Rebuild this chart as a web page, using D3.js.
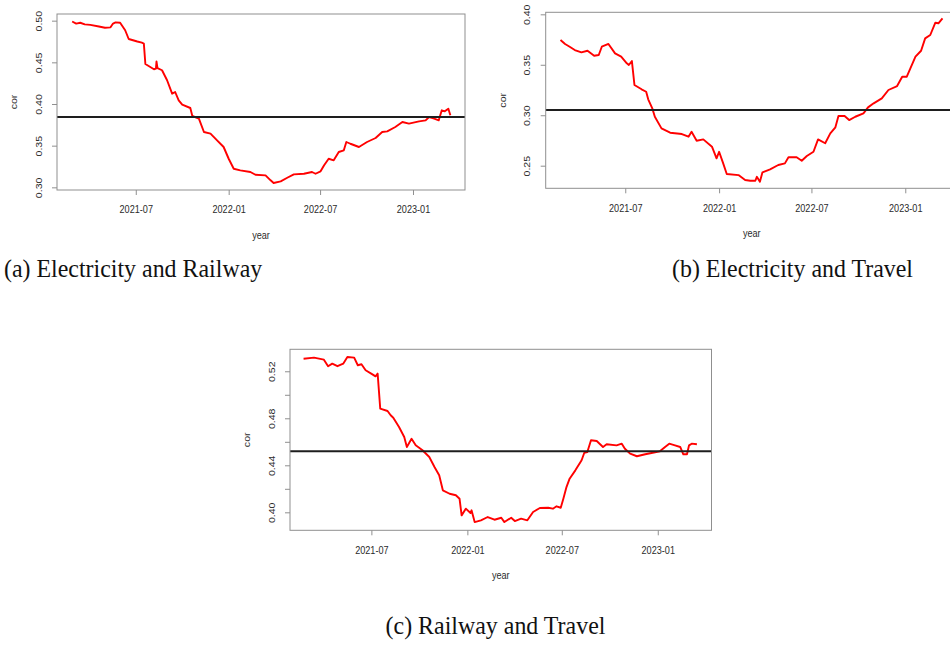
<!DOCTYPE html>
<html>
<head>
<meta charset="utf-8">
<script src="https://cdn.jsdelivr.net/npm/d3@7/dist/d3.min.js"></script>
<style>
  html, body { margin: 0; padding: 0; background: #fff; }
  svg { display: block; }
</style>
</head>
<body>
<svg id="chart" width="950" height="645"></svg>
<script>
// Rolling correlation between sector series, with the overall mean as a reference line.

const xTickLabels = ["2021-07", "2022-01", "2022-07", "2023-01"];

// (a) Electricity and Railway
const datesA = ["2021-02-25","2021-03-05","2021-03-13","2021-03-22","2021-04-02","2021-04-19","2021-05-01","2021-05-12","2021-05-17","2021-05-22","2021-05-31","2021-06-10","2021-06-17","2021-07-04","2021-07-13","2021-07-17","2021-07-20","2021-08-06","2021-08-10","2021-08-11","2021-08-13","2021-08-22","2021-09-01","2021-09-11","2021-09-17","2021-09-24","2021-10-01","2021-10-17","2021-10-21","2021-11-03","2021-11-13","2021-11-26","2021-12-09","2021-12-22","2022-01-01","2022-01-11","2022-01-24","2022-02-13","2022-02-23","2022-03-15","2022-03-25","2022-03-31","2022-04-14","2022-04-27","2022-05-10","2022-05-30","2022-06-15","2022-06-22","2022-07-02","2022-07-09","2022-07-18","2022-07-28","2022-08-07","2022-08-17","2022-08-22","2022-08-30","2022-09-16","2022-10-02","2022-10-19","2022-11-01","2022-11-11","2022-11-27","2022-12-11","2022-12-24","2023-01-13","2023-01-26","2023-02-02","2023-02-12","2023-02-21","2023-02-27","2023-03-05","2023-03-12","2023-03-16"];
const corA = [0.499,0.4965,0.4975,0.4955,0.495,0.493,0.4915,0.492,0.4965,0.498,0.4975,0.4885,0.478,0.475,0.4736,0.4725,0.448,0.4417,0.4425,0.451,0.443,0.4405,0.4285,0.4124,0.4144,0.4044,0.3992,0.3952,0.3856,0.3824,0.3664,0.3644,0.3564,0.3484,0.3343,0.3223,0.3204,0.3184,0.3151,0.3144,0.3084,0.3052,0.3072,0.3115,0.3156,0.3163,0.3184,0.3163,0.3192,0.3264,0.3343,0.3324,0.3424,0.3444,0.3544,0.3523,0.3484,0.3544,0.3592,0.3664,0.3672,0.3724,0.3784,0.3764,0.3792,0.3804,0.3844,0.3824,0.3804,0.3924,0.3912,0.3944,0.3864];
const meanA = 0.3844;
const yTicksA = [0.30, 0.35, 0.40, 0.45, 0.50];

// (b) Electricity and Travel
const datesB = ["2021-02-24","2021-03-05","2021-03-14","2021-03-24","2021-04-06","2021-04-18","2021-05-01","2021-05-10","2021-05-16","2021-05-29","2021-06-11","2021-06-23","2021-07-04","2021-07-08","2021-07-14","2021-07-19","2021-08-02","2021-08-11","2021-08-15","2021-08-23","2021-08-28","2021-09-10","2021-09-27","2021-10-20","2021-11-02","2021-11-08","2021-11-18","2021-12-01","2021-12-18","2021-12-27","2022-01-01","2022-01-09","2022-01-16","2022-02-08","2022-02-21","2022-03-03","2022-03-13","2022-03-16","2022-03-22","2022-03-27","2022-04-11","2022-04-27","2022-05-10","2022-05-17","2022-06-02","2022-06-12","2022-06-22","2022-07-05","2022-07-14","2022-07-28","2022-08-07","2022-08-17","2022-08-23","2022-09-04","2022-09-13","2022-09-25","2022-10-11","2022-10-20","2022-10-31","2022-11-16","2022-11-29","2022-12-16","2022-12-26","2023-01-04","2023-01-11","2023-01-21","2023-02-01","2023-02-09","2023-02-19","2023-03-01","2023-03-07","2023-03-15"];
const corB = [0.3745,0.3706,0.3679,0.3646,0.3623,0.3639,0.359,0.3597,0.3679,0.3706,0.3613,0.358,0.3514,0.3498,0.3537,0.33,0.3257,0.3233,0.3158,0.3068,0.2985,0.287,0.2827,0.2814,0.2787,0.2836,0.2747,0.2761,0.2688,0.2573,0.2638,0.2523,0.2417,0.2407,0.2358,0.2351,0.2351,0.239,0.2341,0.2434,0.2464,0.2507,0.2523,0.2583,0.2583,0.2549,0.2596,0.2638,0.2761,0.2722,0.282,0.288,0.2992,0.2992,0.2952,0.2985,0.3019,0.3078,0.3118,0.3167,0.325,0.3289,0.3382,0.3382,0.3465,0.358,0.3639,0.3762,0.3795,0.3917,0.3911,0.396];
const meanB = 0.3053;
const yTicksB = [0.25, 0.30, 0.35, 0.40];

// (c) Railway and Travel
const datesC = ["2021-02-21","2021-03-13","2021-04-01","2021-04-09","2021-04-17","2021-04-27","2021-05-08","2021-05-16","2021-05-29","2021-06-05","2021-06-12","2021-06-20","2021-07-03","2021-07-09","2021-07-13","2021-07-18","2021-08-01","2021-08-07","2021-08-12","2021-08-23","2021-09-02","2021-09-07","2021-09-16","2021-09-24","2021-10-07","2021-10-20","2021-10-30","2021-11-08","2021-11-15","2021-11-28","2021-12-10","2021-12-17","2021-12-21","2021-12-29","2022-01-07","2022-01-09","2022-01-15","2022-01-27","2022-02-09","2022-02-22","2022-03-07","2022-03-13","2022-03-26","2022-04-02","2022-04-14","2022-04-26","2022-05-07","2022-05-20","2022-06-05","2022-06-14","2022-06-21","2022-06-29","2022-07-04","2022-07-10","2022-07-16","2022-07-27","2022-08-08","2022-08-13","2022-08-19","2022-08-26","2022-09-06","2022-09-18","2022-09-25","2022-10-14","2022-10-24","2022-10-30","2022-11-09","2022-11-22","2022-12-08","2022-12-20","2023-01-05","2023-01-15","2023-01-23","2023-02-03","2023-02-13","2023-02-19","2023-02-26","2023-03-02","2023-03-07","2023-03-17"];
const corC = [0.5307,0.5316,0.5299,0.5243,0.5265,0.5243,0.5265,0.5322,0.5316,0.5251,0.526,0.5209,0.5174,0.5157,0.518,0.4882,0.4862,0.4826,0.4805,0.4726,0.4641,0.4556,0.4626,0.457,0.4528,0.4471,0.4386,0.4315,0.4187,0.4158,0.4145,0.4116,0.3974,0.4031,0.3994,0.4017,0.3917,0.3932,0.396,0.3937,0.3954,0.3917,0.3954,0.3926,0.3946,0.3932,0.4003,0.4037,0.4039,0.4031,0.4051,0.4039,0.4116,0.4215,0.4286,0.4357,0.4443,0.4505,0.4513,0.4613,0.4607,0.4556,0.4579,0.457,0.4584,0.4541,0.4499,0.4477,0.4494,0.4505,0.4519,0.4556,0.4584,0.457,0.4556,0.4494,0.4494,0.457,0.4584,0.4579];
const meanC = 0.452;
const yTicksC = [0.40, 0.42, 0.44, 0.46, 0.48, 0.50, 0.52];
const yLabelsC = [0.40, 0.44, 0.48, 0.52];

const captions = ["(a) Electricity and Railway", "(b) Electricity and Travel", "(c) Railway and Travel"];

const parseDate = d3.timeParse("%Y-%m-%d");
const parseMonth = d3.timeParse("%Y-%m");
const xExtent = [parseDate("2021-01-26"), parseDate("2023-04-14")];

const panels = [
  { dates: datesA, cor: corA, mean: meanA, ticks: yTicksA, labels: yTicksA,
    box: { x0: 57, x1: 465, y0: 14, y1: 190 }, yDomain: [0.2968, 0.508], caption: captions[0],
    cap: { x: 4, y: 277, anchor: "start" } },
  { dates: datesB, cor: corB, mean: meanB, ticks: yTicksB, labels: yTicksB,
    box: { x0: 545.7, x1: 957.8, y0: 12.3, y1: 188.3 }, yDomain: [0.2276, 0.402], caption: captions[1],
    cap: { x: 913, y: 277, anchor: "end" } },
  { dates: datesC, cor: corC, mean: meanC, ticks: yTicksC, labels: yLabelsC,
    box: { x0: 290, x1: 711.5, y0: 349.3, y1: 530.3 }, yDomain: [0.3847, 0.5387], caption: captions[2],
    cap: { x: 495.5, y: 634, anchor: "middle" } }
];

const svg = d3.select("#chart");
svg.append("rect").attr("width", 950).attr("height", 645).attr("fill", "#fff");

const FRAME = "#8f8f8f";
const TEXT = "#2b2b2b";
const SX = 0.86; // condensed horizontal glyph scale of the plot text
const sansFont = "'Liberation Sans', Arial, sans-serif";

panels.forEach(p => {
  const b = p.box;
  const x = d3.scaleTime().domain(xExtent).range([b.x0, b.x1]);
  const y = d3.scaleLinear().domain(p.yDomain).range([b.y1, b.y0]);
  const g = svg.append("g");

  // y axis
  const yAxis = g.append("g").attr("transform", `translate(${b.x0},0)`)
    .call(d3.axisLeft(y).tickValues(p.ticks).tickSize(5)
      .tickFormat(v => p.labels.some(l => Math.abs(l - v) < 1e-9) ? d3.format(".2f")(v) : ""));
  yAxis.select(".domain").remove();
  yAxis.selectAll(".tick line").attr("stroke", FRAME).attr("stroke-width", 1);
  yAxis.selectAll(".tick text")
    .attr("x", null).attr("dy", null)
    .attr("text-anchor", "middle")
    .attr("transform", `translate(-15.5,0) scale(${SX},1) rotate(-90)`)
    .attr("fill", TEXT).style("font-family", sansFont).style("font-size", "10.6px");

  // x axis
  const xAxis = g.append("g").attr("transform", `translate(0,${b.y1})`)
    .call(d3.axisBottom(x).tickValues(xTickLabels.map(parseMonth)).tickSize(5)
      .tickFormat(d3.timeFormat("%Y-%m")));
  xAxis.select(".domain").remove();
  xAxis.selectAll(".tick line").attr("stroke", FRAME).attr("stroke-width", 1);
  xAxis.selectAll(".tick text")
    .attr("y", 23.5).attr("dy", null)
    .attr("transform", `scale(${SX},1)`)
    .attr("fill", TEXT).style("font-family", sansFont).style("font-size", "10.6px");

  // axis titles
  g.append("text")
    .attr("transform", `translate(${(b.x0 + b.x1) / 2},${b.y1 + 48.5}) scale(${SX},1)`)
    .attr("text-anchor", "middle").attr("fill", TEXT)
    .style("font-family", sansFont).style("font-size", "10.6px").text("year");
  g.append("text")
    .attr("transform", `translate(${b.x0 - 40},${(b.y0 + b.y1) / 2}) scale(${SX},1) rotate(-90)`)
    .attr("text-anchor", "middle").attr("fill", TEXT)
    .style("font-family", sansFont).style("font-size", "10.6px").text("cor");

  // correlation series
  const series = p.dates.map((d, i) => ({ date: parseDate(d), v: p.cor[i] }));
  g.append("path").datum(series)
    .attr("fill", "none").attr("stroke", "#ff0000").attr("stroke-width", 1.9)
    .attr("stroke-linejoin", "round")
    .attr("d", d3.line().x(d => x(d.date)).y(d => y(d.v)));

  // mean reference line
  g.append("line")
    .attr("x1", b.x0).attr("x2", b.x1)
    .attr("y1", y(p.mean)).attr("y2", y(p.mean))
    .attr("stroke", "#1e1e1e").attr("stroke-width", 2);

  // plot frame
  g.append("rect")
    .attr("x", b.x0).attr("y", b.y0)
    .attr("width", b.x1 - b.x0).attr("height", b.y1 - b.y0)
    .attr("fill", "none").attr("stroke", FRAME).attr("stroke-width", 1);

  // caption
  const capX = p.cap.x;
  svg.append("text")
    .attr("transform", `translate(${capX},${p.cap.y}) scale(0.92,1)`)
    .attr("text-anchor", p.cap.anchor).attr("fill", "#111")
    .style("font-family", "'Liberation Serif', 'Times New Roman', serif")
    .style("font-size", "26px").text(p.caption);
});
</script>
</body>
</html>
